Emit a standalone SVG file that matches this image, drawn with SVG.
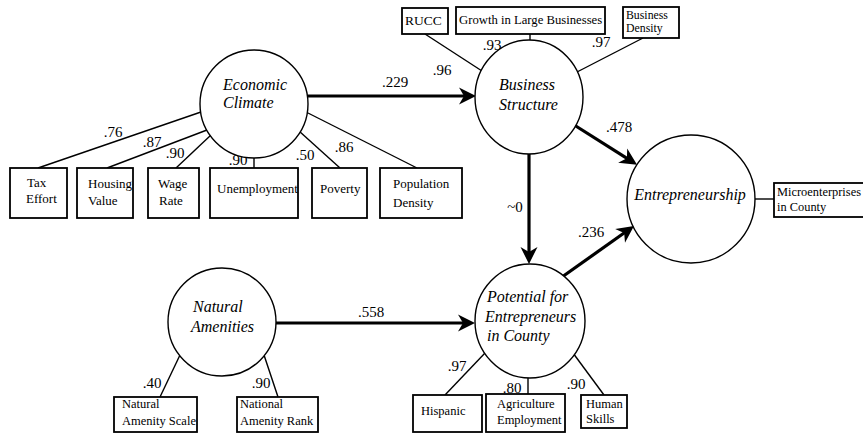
<svg xmlns="http://www.w3.org/2000/svg" width="863" height="433" viewBox="0 0 863 433" font-family="'Liberation Serif', 'Times New Roman', 'DejaVu Serif', serif">
<style>
.bg{fill:#fff}
.lat{fill:#fff;stroke:#000;stroke-width:1.4}
.box{fill:#fff;stroke:#000;stroke-width:1.8}
.ln{stroke:#000;stroke-width:1.4;fill:none}
.arr{stroke:#000;stroke-width:3.2;fill:none;marker-end:url(#ah)}
.lt{font-family:'Liberation Serif','Times New Roman','DejaVu Serif',serif;font-style:italic;font-size:16px;fill:#000}
.bt{font-family:'Liberation Serif','Times New Roman','DejaVu Serif',serif;font-size:13px;fill:#000}
.nt{font-family:'Liberation Serif','Times New Roman','DejaVu Serif',serif;font-size:15px;fill:#000;text-anchor:middle}
</style>
<defs>
<marker id="ah" markerUnits="userSpaceOnUse" viewBox="-18 -10 20 20" refX="-10" refY="0" markerWidth="20" markerHeight="20" orient="auto">
<path d="M0,0 L-17,-8.5 L-12,0 L-17,8.5 Z" fill="#000"/>
</marker>
</defs>
<rect class="bg" x="0" y="0" width="863" height="433"/>

<g id="connectors">
<line class="ln" x1="38" y1="168" x2="201" y2="112"/>
<line class="ln" x1="107" y1="168" x2="207" y2="130"/>
<line class="ln" x1="176" y1="168" x2="211" y2="135"/>
<line class="ln" x1="254" y1="158" x2="254" y2="168"/>
<line class="ln" x1="340" y1="168" x2="299" y2="131"/>
<line class="ln" x1="417" y1="168" x2="306" y2="112"/>
<line class="ln" x1="425" y1="34" x2="482" y2="71"/>
<line class="ln" x1="530" y1="34" x2="530" y2="40"/>
<line class="ln" x1="643" y1="38" x2="577" y2="72"/>
<line class="ln" x1="755" y1="199" x2="774" y2="199"/>
<line class="ln" x1="160" y1="397" x2="180" y2="355"/>
<line class="ln" x1="278" y1="397" x2="264" y2="355"/>
<line class="ln" x1="445" y1="395" x2="485" y2="353"/>
<line class="ln" x1="528" y1="378" x2="528" y2="394"/>
<line class="ln" x1="604" y1="395" x2="573" y2="353"/>
<line class="arr" x1="308" y1="96" x2="466" y2="96"/>
<line class="arr" x1="575" y1="125.5" x2="628.6" y2="159.3"/>
<line class="arr" x1="529" y1="154" x2="529" y2="254"/>
<line class="arr" x1="562" y1="277" x2="625.8" y2="231.8"/>
<line class="arr" x1="276" y1="323" x2="465" y2="323"/>
<text class="nt" x="113" y="137">.76</text>
<text class="nt" x="152" y="147">.87</text>
<text class="nt" x="175" y="158">.90</text>
<text class="nt" x="238" y="165">.90</text>
<text class="nt" x="305" y="160">.50</text>
<text class="nt" x="344" y="152">.86</text>
<text class="nt" x="395" y="87">.229</text>
<text class="nt" x="442" y="75">.96</text>
<text class="nt" x="492" y="50">.93</text>
<text class="nt" x="601" y="47">.97</text>
<text class="nt" x="619" y="132">.478</text>
<text class="nt" x="515" y="212">~0</text>
<text class="nt" x="591" y="237">.236</text>
<text class="nt" x="371" y="317">.558</text>
<text class="nt" x="152" y="388">.40</text>
<text class="nt" x="261" y="388">.90</text>
<text class="nt" x="457" y="371">.97</text>
<text class="nt" x="512" y="393">.80</text>
<text class="nt" x="576" y="389">.90</text>
</g>

<g id="economic-climate">
<circle class="lat" cx="254" cy="104" r="54"/>
<text class="lt" x="223" y="90">Economic</text>
<text class="lt" x="223" y="108">Climate</text>
</g>
<g id="business-structure">
<ellipse class="lat" cx="529" cy="97" rx="54" ry="57"/>
<text class="lt" x="499" y="90">Business</text>
<text class="lt" x="499" y="110">Structure</text>
</g>
<g id="entrepreneurship">
<circle class="lat" cx="691" cy="199" r="64"/>
<text class="lt" x="690" y="200" text-anchor="middle">Entrepreneurship</text>
</g>
<g id="natural-amenities">
<circle class="lat" cx="222" cy="322" r="54"/>
<text class="lt" x="193" y="312">Natural</text>
<text class="lt" x="191" y="332">Amenities</text>
</g>
<g id="potential">
<ellipse class="lat" cx="530" cy="321" rx="55" ry="57"/>
<text class="lt" x="487" y="302">Potential for</text>
<text class="lt" x="485" y="322">Entrepreneurs</text>
<text class="lt" x="487" y="341">in County</text>
</g>

<g id="tax-effort"><rect class="box" x="10" y="168" width="57" height="50"/>
<text class="bt" x="27" y="187">Tax</text><text class="bt" x="26" y="203">Effort</text></g>
<g id="housing-value"><rect class="box" x="77" y="168" width="56" height="50"/>
<text class="bt" x="88" y="188">Housing</text><text class="bt" x="88" y="205">Value</text></g>
<g id="wage-rate"><rect class="box" x="148" y="168" width="51" height="50"/>
<text class="bt" x="158" y="188">Wage</text><text class="bt" x="159" y="205">Rate</text></g>
<g id="unemployment"><rect class="box" x="210" y="168" width="88" height="50"/>
<text class="bt" x="217" y="193">Unemployment</text></g>
<g id="poverty"><rect class="box" x="312" y="168" width="55" height="50"/>
<text class="bt" x="320" y="193">Poverty</text></g>
<g id="population-density"><rect class="box" x="380" y="168" width="82" height="50"/>
<text class="bt" x="393" y="188">Population</text><text class="bt" x="393" y="207">Density</text></g>

<g id="rucc"><rect class="box" x="402" y="8" width="46" height="26"/>
<text class="bt" x="405" y="25" style="font-size:13.5px">RUCC</text></g>
<g id="growth"><rect class="box" x="456" y="7" width="149" height="27"/>
<text class="bt" x="459" y="24" style="font-size:12.7px">Growth in Large Businesses</text></g>
<g id="business-density"><rect class="box" x="623" y="7" width="56" height="31"/>
<text class="bt" x="626" y="18.5" style="font-size:11.8px">Business</text><text class="bt" x="626" y="32" style="font-size:11.8px">Density</text></g>

<g id="microenterprises"><rect class="box" x="774" y="183" width="100" height="34"/>
<text class="bt" x="777" y="196" style="font-size:12.4px">Microenterprises</text><text class="bt" x="777" y="211" style="font-size:12.4px">in County</text></g>

<g id="natural-amenity-scale"><rect class="box" x="114" y="397" width="83" height="35"/>
<text class="bt" x="122" y="408" style="font-size:12.5px">Natural</text><text class="bt" x="122" y="425" style="font-size:12.5px">Amenity Scale</text></g>
<g id="national-amenity-rank"><rect class="box" x="237" y="397" width="81" height="35"/>
<text class="bt" x="240" y="408" style="font-size:12.5px">National</text><text class="bt" x="240" y="425" style="font-size:12.5px">Amenity Rank</text></g>

<g id="hispanic"><rect class="box" x="413" y="395" width="69" height="37"/>
<text class="bt" x="421" y="415" style="font-size:12.5px">Hispanic</text></g>
<g id="agriculture-employment"><rect class="box" x="486" y="394" width="79" height="38"/>
<text class="bt" x="497" y="408" style="font-size:12.5px">Agriculture</text><text class="bt" x="497" y="424" style="font-size:12.5px">Employment</text></g>
<g id="human-skills"><rect class="box" x="581" y="395" width="46" height="33"/>
<text class="bt" x="586" y="408" style="font-size:12.5px">Human</text><text class="bt" x="586" y="423" style="font-size:12.5px">Skills</text></g>
</svg>
